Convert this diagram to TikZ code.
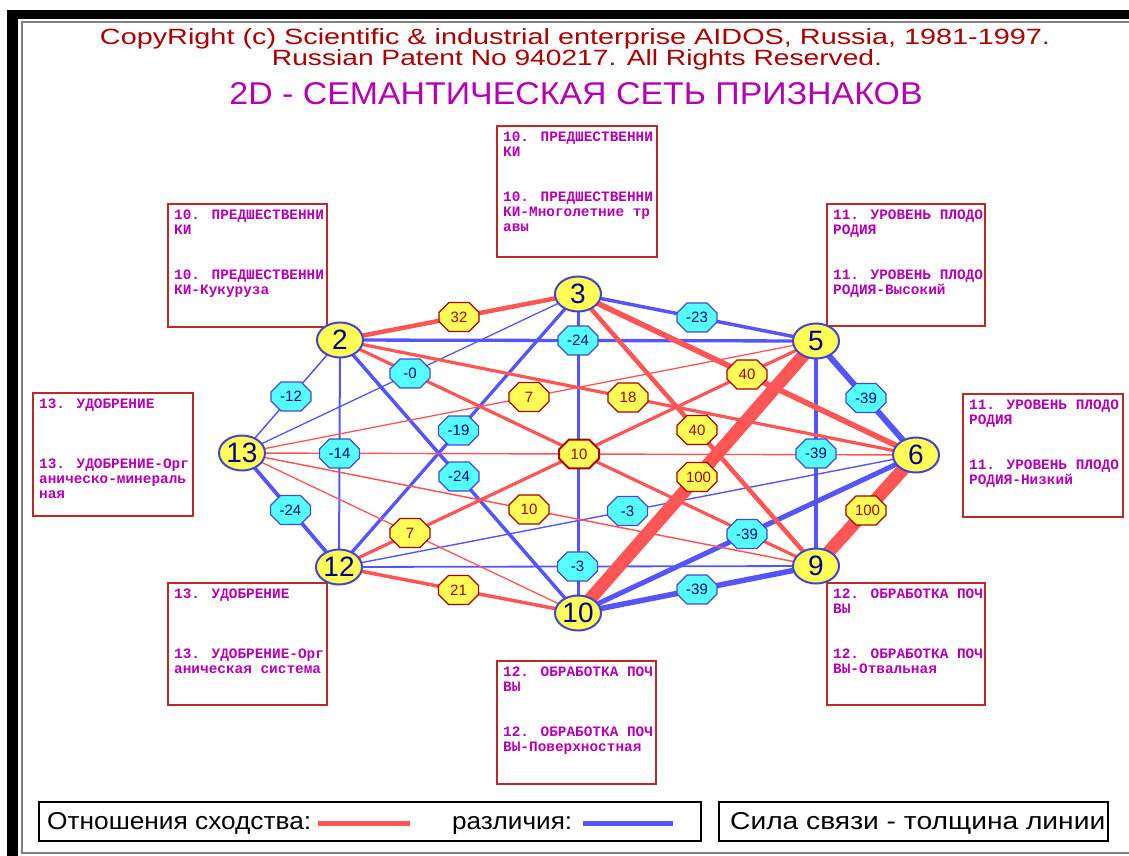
\documentclass[tikz,border=0pt]{standalone}
\usepackage{fontspec}
\usepackage{graphicx}
\setmainfont{Liberation Sans}
\newfontfamily\pixfont{Liberation Mono}
\usetikzlibrary{shapes.misc,shapes.geometric}
\definecolor{lred}{RGB}{255,85,85}
\definecolor{lblue}{RGB}{85,85,255}
\definecolor{lcyan}{RGB}{85,255,255}
\definecolor{lyellow}{RGB}{255,255,85}
\definecolor{nblue}{RGB}{0,0,140}
\definecolor{dred}{RGB}{170,0,0}
\definecolor{boxred}{RGB}{190,40,40}
\definecolor{mag}{RGB}{180,0,180}
\definecolor{framegray}{RGB}{128,128,128}
\pgfdeclarelayer{bg}
\pgfdeclarelayer{edges}
\pgfdeclarelayer{labels}
\pgfsetlayers{bg,edges,labels,main}
\tikzset{
  vtx/.style={ellipse, draw=lblue!80!black, line width=2pt, fill=lyellow, minimum width=46pt, minimum height=35pt, inner sep=0pt, text=nblue, font=\fontsize{28}{28}\selectfont},
  lab/.style={chamfered rectangle, chamfered rectangle xsep=5pt, chamfered rectangle ysep=5pt, line width=1.3pt, text width=22pt, align=center, text height=10.5pt, text depth=0pt, inner xsep=4pt, inner ysep=4.2pt, font=\fontsize{15}{15}\selectfont},
  neglab/.style={lab, draw=lblue!85!black, fill=lcyan, text=nblue},
  poslab/.style={lab, draw=dred, fill=lyellow, text=dred},
  sim/.style={draw=lred},
  dif/.style={draw=lblue},
  infobox/.style={draw=boxred, line width=1.8pt, fill=white},
  boxtxt/.style={text=mag, font=\pixfont\bfseries\fontsize{14.4}{15}\selectfont, align=left, inner sep=0pt, anchor=north west},
  legbox/.style={draw=black, line width=1.5pt},
  plain/.style={inner sep=0pt},
}
\begin{document}
\begin{tikzpicture}[x=1pt,y=-1pt]
\useasboundingbox (0,0) rectangle (1129,856);
\begin{pgfonlayer}{bg}
\fill[black] (7,10) rectangle (1129,856);
\fill[white] (18,19) rectangle (1129,856);
\draw[framegray, line width=1.5pt] (1129,22) -- (22,22) -- (22,853) -- (1129,853);
\draw[infobox] (497,126) rectangle (657,257);
\draw[infobox] (168,204) rectangle (327,327);
\draw[infobox] (827,204) rectangle (985,326);
\draw[infobox] (33,393) rectangle (193,516);
\draw[infobox] (963,394) rectangle (1123,517);
\draw[infobox] (168,583) rectangle (327,705);
\draw[infobox] (497,661) rectangle (656,784);
\draw[infobox] (827,583) rectangle (985,705);
\node[boxtxt] (tTC) at (503,132) {10. ПРЕДШЕСТВЕННИ\\КИ\\[30pt]10. ПРЕДШЕСТВЕННИ\\КИ-Многолетние тр\\авы};
\node[boxtxt] (tUL) at (174,210) {10. ПРЕДШЕСТВЕННИ\\КИ\\[30pt]10. ПРЕДШЕСТВЕННИ\\КИ-Кукуруза};
\node[boxtxt] (tUR) at (833,210) {11. УРОВЕНЬ ПЛОДО\\РОДИЯ\\[30pt]11. УРОВЕНЬ ПЛОДО\\РОДИЯ-Высокий};
\node[boxtxt] (tL) at (39,399) {13. УДОБРЕНИЕ\\[45pt]13. УДОБРЕНИЕ-Орг\\аническо-минераль\\ная};
\node[boxtxt] (tR) at (969,400) {11. УРОВЕНЬ ПЛОДО\\РОДИЯ\\[30pt]11. УРОВЕНЬ ПЛОДО\\РОДИЯ-Низкий};
\node[boxtxt] (tLL) at (174,589) {13. УДОБРЕНИЕ\\[45pt]13. УДОБРЕНИЕ-Орг\\аническая система};
\node[boxtxt] (tBC) at (503,667) {12. ОБРАБОТКА ПОЧ\\ВЫ\\[30pt]12. ОБРАБОТКА ПОЧ\\ВЫ-Поверхностная};
\node[boxtxt] (tLR) at (833,589) {12. ОБРАБОТКА ПОЧ\\ВЫ\\[30pt]12. ОБРАБОТКА ПОЧ\\ВЫ-Отвальная};
% titles
\node[plain, anchor=base, text=dred] (cr1) at (575,45) {\resizebox{950pt}{16pt}{CopyRight (c) Scientific \& industrial enterprise AIDOS, Russia, 1981-1997.}};
\node[plain, anchor=base, text=dred] (cr2) at (577,66) {\resizebox{610pt}{16pt}{Russian Patent No 940217. All Rights Reserved.}};
\node[plain, anchor=base, text=mag] (ttl) at (576,105) {\resizebox{693pt}{22pt}{2D - СЕМАНТИЧЕСКАЯ СЕТЬ ПРИЗНАКОВ}};
% legend
\draw[legbox] (39,802) rectangle (701,841);
\draw[legbox] (719,802) rectangle (1108,841);
\node[plain, anchor=base west] (legA) at (47,829) {\resizebox{264pt}{17pt}{Отношения сходства:}};
\draw[lred, line width=5pt] (318,823) -- (410,823);
\node[plain, anchor=base west] (legB) at (452,829) {\resizebox{120pt}{13pt}{различия:}};
\draw[lblue, line width=5pt] (583,823) -- (673,823);
\node[plain, anchor=base west] (legC) at (730,829) {\resizebox{375pt}{17pt}{Сила связи - толщина линии}};
\end{pgfonlayer}
% vertices
\node[vtx] (n3) at (578,294) {3};
\node[vtx] (n2) at (340,340) {2};
\node[vtx] (n5) at (816,341) {5};
\node[vtx] (n13) at (242,453) {13};
\node[vtx] (n6) at (916,455) {6};
\node[vtx] (n12) at (339,567) {12};
\node[vtx] (n9) at (816,566) {9};
\node[vtx] (n10) at (578,613) {10};
\begin{pgfonlayer}{edges}
\draw[dif, line width=1.5pt] (n13.center) -- (n2.center);
\draw[dif, line width=1.3pt] (n13.center) -- (n3.center);
\draw[dif, line width=3.8pt] (n13.center) -- (n12.center);
\draw[dif, line width=2pt] (n2.center) -- (n12.center);
\draw[dif, line width=3.3pt] (n12.center) -- (n3.center);
\draw[dif, line width=3.5pt] (n2.center) -- (n10.center);
\draw[dif, line width=3.3pt] (n2.center) -- (n5.center);
\draw[dif, line width=3.5pt] (n3.center) -- (n5.center);
\draw[dif, line width=3pt] (n3.center) -- (n10.center);
\draw[dif, line width=6pt] (n5.center) -- (n6.center);
\draw[dif, line width=4.2pt] (n5.center) -- (n9.center);
\draw[dif, line width=5pt] (n6.center) -- (n10.center);
\draw[dif, line width=5.5pt] (n9.center) -- (n10.center);
\draw[dif, line width=1.8pt] (n12.center) -- (n9.center);
\draw[dif, line width=1.4pt] (n12.center) -- (n6.center);
\draw[sim, line width=1.4pt] (n13.center) -- (n6.center);
\draw[sim, line width=1.3pt] (n13.center) -- (n5.center);
\draw[sim, line width=1.5pt] (n13.center) -- (n9.center);
\draw[sim, line width=1.3pt] (n13.center) -- (n10.center);
\draw[sim, line width=4.5pt] (n2.center) -- (n3.center);
\draw[sim, line width=5.6pt] (n3.center) -- (n6.center);
\draw[sim, line width=4.5pt] (n3.center) -- (n9.center);
\draw[sim, line width=3.2pt] (n2.center) -- (n6.center);
\draw[sim, line width=3.2pt] (n2.center) -- (n9.center);
\draw[sim, line width=3.2pt] (n12.center) -- (n5.center);
\draw[sim, line width=3.5pt] (n12.center) -- (n10.center);
\draw[sim, line width=13pt] (n5.center) -- (n10.center);
\draw[sim, line width=13pt] (n6.center) -- (n9.center);
\end{pgfonlayer}
\begin{pgfonlayer}{labels}
\path (n13.center) -- node[neglab] (l1) {-12} (n2.center);
\path (n13.center) -- node[neglab] (l2) {-0} (n3.center);
\path (n13.center) -- node[neglab] (l3) {-24} (n12.center);
\path (n2.center) -- node[neglab] (l4) {-14} (n12.center);
\path (n12.center) -- node[neglab] (l5) {-19} (n3.center);
\path (n2.center) -- node[neglab] (l6) {-24} (n10.center);
\path (n2.center) -- node[neglab] (l7) {-24} (n5.center);
\path (n3.center) -- node[neglab] (l8) {-23} (n5.center);
\path (n5.center) -- node[neglab] (l9) {-39} (n6.center);
\path (n5.center) -- node[neglab] (l10) {-39} (n9.center);
\path (n6.center) -- node[neglab] (l11) {-39} (n10.center);
\path (n9.center) -- node[neglab] (l12) {-39} (n10.center);
\path (n12.center) -- node[neglab] (l13) {-3} (n9.center);
\path (n12.center) -- node[neglab] (l14) {-3} (n6.center);
\path (n2.center) -- node[poslab] (l15) {32} (n3.center);
\path (n3.center) -- node[poslab] (l16) {40} (n6.center);
\path (n3.center) -- node[poslab] (l17) {40} (n9.center);
\path (n5.center) -- node[poslab] (l18) {100} (n10.center);
\path (n6.center) -- node[poslab] (l19) {100} (n9.center);
\path (n2.center) -- node[poslab] (l20) {18} (n6.center);
\path (n13.center) -- node[poslab] (l21) {7} (n5.center);
\path (n13.center) -- node[poslab] (l22) {10} (n9.center);
\path (n13.center) -- node[poslab] (l23) {7} (n10.center);
\path (n12.center) -- node[poslab] (l24) {21} (n10.center);
\path (n13.center) -- node[poslab, line width=2pt] (l25) {10} (n6.center);
\end{pgfonlayer}
\end{tikzpicture}
\end{document}
